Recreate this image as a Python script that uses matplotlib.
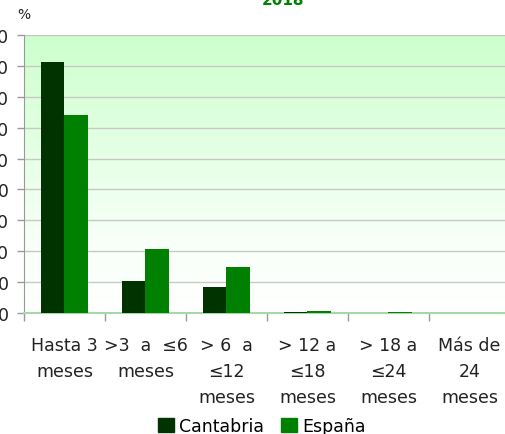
import matplotlib
matplotlib.use("Agg")
import matplotlib.pyplot as plt
import numpy as np
from matplotlib.colors import LinearSegmentedColormap
from matplotlib.patches import Patch

categories = [
    "Hasta 3\nmeses",
    ">3  a  ≤6\nmeses",
    "> 6  a\n≤12\nmeses",
    "> 12 a\n≤18\nmeses",
    "> 18 a\n≤24\nmeses",
    "Más de\n24\nmeses",
]
cantabria = [81.2, 10.3, 8.3, 0.2, 0.1, 0.1]
espana = [64.1, 20.6, 14.8, 0.6, 0.2, 0.1]
y_ticks = [0, 10, 20, 30, 40, 50, 60, 70, 80, 90]

W, H = 506, 435
fig = plt.figure(figsize=(W / 100, H / 100), dpi=100)
ax = fig.add_axes([24 / W, 121 / H, 486 / W, 278 / H])

# background gradient: pale green at top fading to white near the bottom
grad = np.linspace(0, 1, 256).reshape(-1, 1)
cmap = LinearSegmentedColormap.from_list(
    "bg", [(0.0, "#ffffff"), (0.25, "#f8fff8"), (0.6, "#e4ffe4"), (1.0, "#ccffcc")])
ax.imshow(grad, aspect="auto", cmap=cmap, origin="lower",
          extent=[-0.5, 5.5, 0, 90], zorder=0)

for t in y_ticks[1:]:
    ax.axhline(t, color="#c8c8c8", linewidth=1.0, zorder=1)

x = np.arange(len(categories))
w = 0.29
ax.bar(x - 0.145, cantabria, width=w, color="#003300", zorder=3, label="Cantabria")
ax.bar(x + 0.145, espana, width=w, color="#008000", zorder=3, label="España")

ax.set_xlim(-0.5, 5.5)
ax.set_ylim(0, 90)
ax.set_yticks(y_ticks)
ax.set_yticklabels([str(v) for v in y_ticks], fontsize=12.5, color="#222222")
ax.set_xticks(np.arange(-0.5, 5.6, 1.0))
ax.set_xticklabels([])
ax.tick_params(axis="x", length=6, color="#999999", width=1)
ax.tick_params(axis="y", length=5, color="#999999", width=1, pad=6)

for i, lab in enumerate(categories):
    ax.text(i, -7.5, lab, ha="center", va="top", fontsize=12.5,
            color="#222222", linespacing=1.55)

for s in ["top", "right"]:
    ax.spines[s].set_visible(False)
ax.spines["left"].set_color("#999999")
ax.spines["bottom"].set_color("#a8d8a8")
ax.spines["bottom"].set_linewidth(1.5)

fig.text(24 / W, (H - 15) / H, "%", fontsize=10, ha="center", va="center", color="#222222")
fig.text(283 / W, (H - 5) / H, "2018", fontsize=11, fontweight="bold",
         ha="center", va="baseline", color="#008000")

handles = [Patch(color="#003300", label="Cantabria"), Patch(color="#008000", label="España")]
fig.legend(handles=handles, loc="center", bbox_to_anchor=(262 / W, (H - 427) / H),
           ncol=2, frameon=False, fontsize=12.5, handlelength=0.9, handleheight=0.9,
           handletextpad=0.3, columnspacing=1.0, borderpad=0)

fig.savefig("out.png", dpi=100)
